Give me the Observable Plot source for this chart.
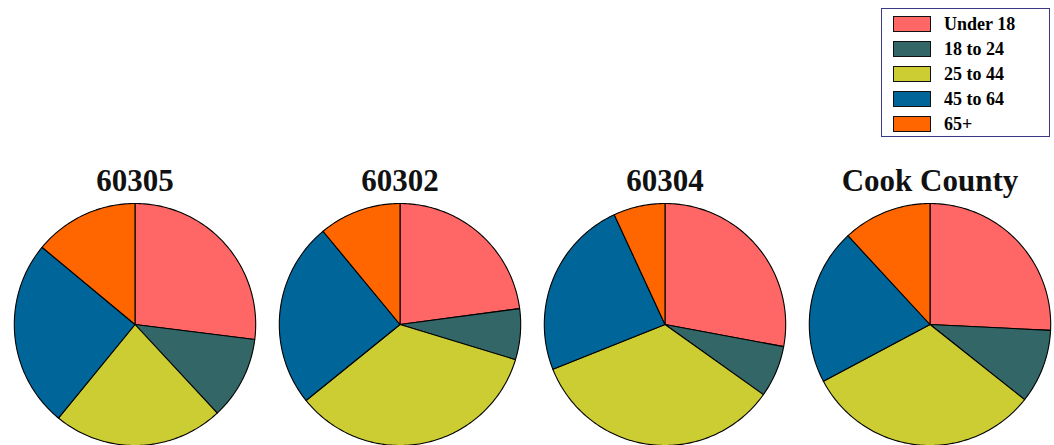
<!DOCTYPE html>
<html>
<head>
<meta charset="utf-8">
<script src="https://cdn.jsdelivr.net/npm/d3@7"></script>
<script src="https://cdn.jsdelivr.net/npm/@observablehq/plot@0.6"></script>
<style>
  html, body { margin: 0; padding: 0; background: #fff; overflow: hidden; }
  #wrap { position: relative; width: 1054px; height: 445px; overflow: hidden; }
  #chart { position: absolute; left: 0; top: 0; width: 1063px; }
  #chart svg { max-width: none !important; }
  #legend {
    position: absolute; left: 881px; top: 8px; width: 169px; height: 129px;
    border: 1px solid #3a3a86; box-sizing: border-box; background: #fff;
    font-family: "Liberation Serif", "Times New Roman", serif; font-weight: bold; font-size: 18px;
  }
  .row { position: absolute; left: 11px; height: 16px; display: flex; align-items: center; }
  .sw { width: 36px; height: 14px; border: 1px solid #111; box-sizing: content-box; }
  .lb { margin-left: 13px; color: #000; line-height: 16px; }
</style>
</head>
<body>
<div id="wrap">
  <div id="chart"></div>
  <div id="legend"></div>
</div>
<script>
const regions = ["60305", "60302", "60304", "Cook County"];
const groups = ["Under 18", "18 to 24", "25 to 44", "45 to 64", "65+"];
const colors = ["#ff6666", "#336666", "#cccc33", "#006699", "#ff6600"];
const share60305 = [27.0, 11.1, 22.9, 25.1, 14.0];
const share60302 = [22.9, 6.8, 34.5, 24.8, 11.0];
const share60304 = [27.9, 6.9, 34.1, 24.1, 6.9];
const shareCook  = [25.8, 9.9, 31.6, 20.9, 11.9];

const shares = [share60305, share60302, share60304, shareCook];

// Build wedge outlines (unit circle, clockwise from 12 o'clock) from the values
const pts = [];
regions.forEach((region, ri) => {
  const vals = shares[ri];
  const total = d3.sum(vals);
  let acc = 0;
  vals.forEach((v, gi) => {
    const a0 = acc / total * 2 * Math.PI;
    acc += v;
    const a1 = acc / total * 2 * Math.PI;
    const key = region + "|" + groups[gi];
    pts.push({region, group: groups[gi], key, x: 0, y: 0});
    const n = Math.max(2, Math.ceil((a1 - a0) / 0.02));
    for (let k = 0; k <= n; k++) {
      const a = a0 + (a1 - a0) * k / n;
      pts.push({region, group: groups[gi], key, x: Math.sin(a), y: Math.cos(a)});
    }
  });
});

const chart = Plot.plot({
  width: 1063,
  height: 445,
  marginLeft: 0,
  marginRight: 0,
  marginTop: 203,
  marginBottom: 0,
  fx: {domain: regions, padding: 0, axis: null},
  x: {domain: [-1.0978, 1.0978], axis: null},
  y: {domain: [-1, 1], axis: null},
  color: {domain: groups, range: colors, legend: false},
  style: {background: "transparent", overflow: "visible", maxWidth: "none"},
  marks: [
    Plot.line(pts, {
      fx: "region", x: "x", y: "y", z: "key",
      fill: "group", stroke: "#000", strokeWidth: 1.1,
      curve: "linear-closed", strokeLinejoin: "round"
    }),
    Plot.text(regions, {
      fx: d => d, text: d => d, frameAnchor: "top", lineAnchor: "bottom", dy: -13,
      fontFamily: "Liberation Serif, Times New Roman, serif", fontWeight: "bold",
      fontSize: 31, fill: "#111"
    })
  ]
});
document.getElementById("chart").appendChild(chart);

const legend = document.getElementById("legend");
groups.forEach((g, i) => {
  const row = document.createElement("div");
  row.className = "row";
  row.style.top = (7 + i * 25) + "px";
  const sw = document.createElement("div");
  sw.className = "sw";
  sw.style.background = colors[i];
  const lb = document.createElement("span");
  lb.className = "lb";
  lb.textContent = g;
  row.appendChild(sw);
  row.appendChild(lb);
  legend.appendChild(row);
});
</script>
</body>
</html>
